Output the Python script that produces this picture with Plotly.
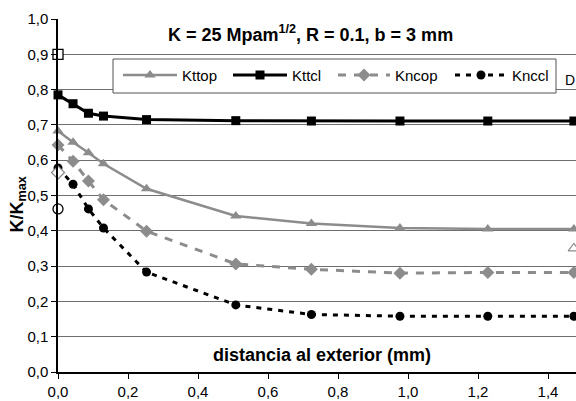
import plotly.graph_objects as go

# ---- data ----
dist = [0, 0.043, 0.087, 0.13, 0.253, 0.508, 0.724, 0.977, 1.228, 1.474]
kttop = [0.683, 0.651, 0.621, 0.590, 0.519, 0.442, 0.421, 0.408, 0.405, 0.405]
kttcl = [0.785, 0.760, 0.733, 0.725, 0.715, 0.712, 0.711, 0.711, 0.711, 0.711]
kncop = [0.643, 0.597, 0.541, 0.488, 0.399, 0.306, 0.291, 0.280, 0.282, 0.282]
knccl = [0.578, 0.532, 0.462, 0.408, 0.283, 0.190, 0.163, 0.158, 0.158, 0.158]

# single reference points (open markers)
ref_x0 = [0, 0, 0]
ref_y0 = [0.90, 0.565, 0.462]
ref_sym0 = ["square", "diamond", "circle"]
ref_col0 = ["black", "#8c8c8c", "black"]
ref_xr = [1.474]
ref_yr = [0.35]

series_names = ["Kttop", "Kttcl", "Kncop", "Knccl"]
yticks = [0.0, 0.1, 0.2, 0.3, 0.4, 0.5, 0.6, 0.7, 0.8, 0.9, 1.0]
xticks = [0.0, 0.2, 0.4, 0.6, 0.8, 1.0, 1.2, 1.4]

GRAY = "#8c8c8c"
FONT = "Liberation Sans, Arial, sans-serif"

styles = [
    dict(line=dict(color=GRAY, width=2.5), marker=dict(symbol="triangle-up", size=10, color=GRAY)),
    dict(line=dict(color="black", width=3), marker=dict(symbol="square", size=9, color="black")),
    dict(line=dict(color=GRAY, width=3, dash="8px,8px"), marker=dict(symbol="diamond", size=10, color=GRAY)),
    dict(line=dict(color="black", width=3, dash="5px,6px"), marker=dict(symbol="circle", size=9, color="black")),
]
values = [kttop, kttcl, kncop, knccl]

L, R, T, B = 58, 576, 19, 372

fig = go.Figure()

# legend box (drawn as a filled trace on the pixel overlay axis, above gridlines)
box_x = [113, 556, 556, 113, 113]
box_y = [59, 59, 93, 93, 59]
fig.add_trace(go.Scatter(x=box_x, y=box_y, mode="lines", fill="toself", fillcolor="white",
                         line=dict(color="#555555", width=1), xaxis="x2", yaxis="y2",
                         showlegend=False, hoverinfo="skip"))

for name, vals, st in zip(series_names, values, styles):
    fig.add_trace(go.Scatter(x=dist, y=vals, mode="lines+markers", name=name,
                             line=st["line"], marker=st["marker"], cliponaxis=False,
                             showlegend=False))

for xx, yy, sym, col in zip(ref_x0, ref_y0, ref_sym0, ref_col0):
    fig.add_trace(go.Scatter(x=[xx], y=[yy], mode="markers", showlegend=False, cliponaxis=False,
                             marker=dict(symbol=sym, size=10, color="white",
                                         line=dict(color=col, width=1.3))))
fig.add_trace(go.Scatter(x=ref_xr, y=ref_yr, mode="markers", showlegend=False, cliponaxis=False,
                         marker=dict(symbol="triangle-up", size=10, color="white",
                                     line=dict(color=GRAY, width=1.2))))

# ---- manual legend entries ----
leg_y = 75
leg_items = [(123, 177), (233, 287), (338, 390), (455, 507)]
for (x0, x1), name, st in zip(leg_items, series_names, styles):
    fig.add_trace(go.Scatter(x=[x0, x1], y=[leg_y, leg_y], mode="lines", xaxis="x2", yaxis="y2",
                             line=st["line"], showlegend=False, hoverinfo="skip"))
    fig.add_trace(go.Scatter(x=[(x0 + x1) / 2], y=[leg_y], mode="markers", xaxis="x2", yaxis="y2",
                             marker=st["marker"], showlegend=False, hoverinfo="skip"))
    fig.add_annotation(x=x1 + 3, y=leg_y, xref="x2", yref="y2", text=name, showarrow=False,
                       xanchor="left", yanchor="middle", font=dict(size=15, color="black", family=FONT))

fig.add_annotation(x=563, y=80, xref="x2", yref="y2", text="D", showarrow=False,
                   xanchor="left", yanchor="middle", font=dict(size=14, color="black", family=FONT))

# titles
fig.add_annotation(x=310, y=33, xref="x2", yref="y2",
                   text="<b>K = 25 Mpam<sup>1/2</sup>, R = 0.1, b = 3 mm</b>", showarrow=False,
                   xanchor="center", yanchor="middle", font=dict(size=18, color="black", family=FONT))
fig.add_annotation(x=322, y=355, xref="x2", yref="y2",
                   text="<b>distancia al exterior (mm)</b>", showarrow=False,
                   xanchor="center", yanchor="middle", font=dict(size=18, color="black", family=FONT))
fig.add_annotation(x=(17.5 - L) / (R - L), y=(B - 205) / (B - T), xref="paper", yref="paper",
                   text="<b>K/K<sub>max</sub></b>", showarrow=False, textangle=-90,
                   xanchor="center", yanchor="middle", font=dict(size=18, color="black", family=FONT))

fig.update_layout(
    width=576, height=401,
    margin=dict(l=L, r=576 - R, t=T, b=401 - B, pad=0),
    paper_bgcolor="white", plot_bgcolor="white",
    separators=",.",
    font=dict(family=FONT, size=15, color="black"),
    xaxis=dict(range=[0, 1.48], tickvals=xticks, tickformat=".1f", showgrid=False,
               showline=True, linecolor="black", linewidth=1.5, ticks="outside", ticklen=5,
               tickcolor="black", zeroline=False, fixedrange=True),
    yaxis=dict(range=[0, 1.0], tickvals=yticks, tickformat=".1f", showgrid=True,
               gridcolor="#6e6e6e", gridwidth=1.2, showline=True, linecolor="black", linewidth=1.5,
               ticks="outside", ticklen=5, tickcolor="black", zeroline=False, fixedrange=True),
    xaxis2=dict(range=[L, R], overlaying="x", visible=False, fixedrange=True),
    yaxis2=dict(range=[B, T], overlaying="y", visible=False, fixedrange=True),
    showlegend=False,
)

fig.write_html("out.html")
